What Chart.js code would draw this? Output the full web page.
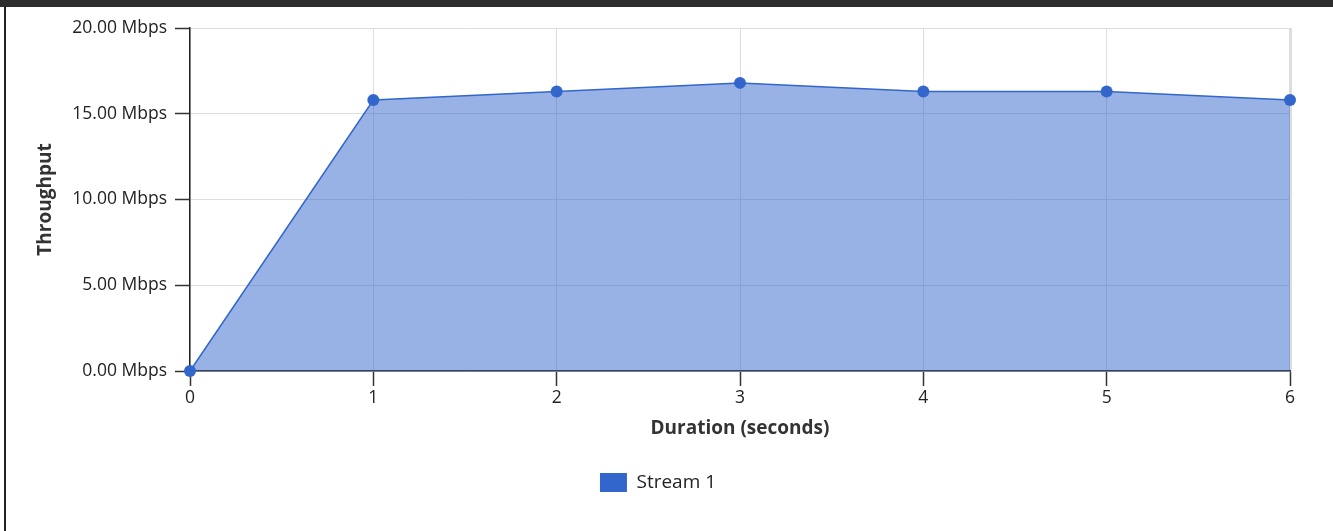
<!DOCTYPE html>
<html>
<head>
<meta charset="utf-8">
<title>Throughput</title>
<script src="https://cdn.jsdelivr.net/npm/chart.js@4"></script>
<style>
    html, body { margin: 0; padding: 0; background: #fff; }
    #topbar { position: absolute; left: 0; top: 0; width: 1333px; height: 7px; background: #2e2e2e; }
    #leftbar { position: absolute; left: 4px; top: 7px; width: 2px; height: 524px; background: #222; }
    #stage { position: absolute; left: 0; top: 0; }
</style>
</head>
<body>
<div id="topbar"></div>
<div id="leftbar"></div>
<canvas id="stage" width="1333" height="531"></canvas>
<script>
// 計測結果（秒ごとのスループット, Mbps）
const seconds = ['0', '1', '2', '3', '4', '5', '6'];
const stream1 = [0, 15.8, 16.3, 16.8, 16.3, 16.3, 15.8];
const yTicks = [0, 5, 10, 15, 20];

const font = "'Open Sans', 'DejaVu Sans', sans-serif";

new Chart(document.getElementById('stage'), {
    type: 'line',
    data: {
        labels: seconds,
        datasets: [{
            label: 'Stream 1',
            data: stream1,
            borderColor: '#3366cc',
            backgroundColor: 'rgba(51, 102, 204, 0.5)',
            borderWidth: 1.5,
            fill: 'origin',
            tension: 0,
            clip: false,
            pointRadius: 6,
            pointBackgroundColor: '#3366cc',
            pointBorderWidth: 0,
        }]
    },
    options: {
        responsive: false,
        animation: false,
        layout: { padding: { top: 28, right: 43, bottom: 29, left: 26 } },
        plugins: {
            legend: {
                position: 'bottom',
                labels: {
                    boxWidth: 27,
                    boxHeight: 19,
                    padding: 10,
                    color: '#222',
                    font: { family: font, size: 19 },
                    generateLabels: chart => chart.data.datasets.map((ds, i) => ({
                        text: ds.label,
                        fillStyle: ds.borderColor,
                        strokeStyle: ds.borderColor,
                        lineWidth: 0,
                        fontColor: '#222',
                        datasetIndex: i,
                    })),
                },
            },
            tooltip: { enabled: false },
        },
        scales: {
            x: {
                type: 'category',
                offset: false,
                afterFit: scale => { scale.height = 92; },
                grid: {
                    color: '#dddddd',
                    lineWidth: ctx => ctx.index === seconds.length - 1 ? 3 : 1,
                    tickColor: '#333',
                    tickWidth: 1.5,
                    tickLength: 15,
                },
                border: { color: '#222', width: 1.5 },
                ticks: {
                    color: '#222',
                    padding: 2,
                    maxRotation: 0,
                    font: { family: font, size: 17.5 },
                },
                title: {
                    display: true,
                    text: 'Duration (seconds)',
                    color: '#333',
                    font: { family: font, size: 19, weight: 'bold' },
                    padding: { top: 4, bottom: 23 },
                },
            },
            y: {
                min: 0,
                max: 20,
                afterFit: scale => { scale.width = 164; },
                afterBuildTicks: scale => { scale.ticks = yTicks.map(v => ({ value: v })); },
                grid: {
                    color: '#dddddd',
                    tickColor: '#333',
                    tickWidth: 1.5,
                    tickLength: 15,
                },
                border: { color: '#222', width: 1.5 },
                ticks: {
                    color: '#222',
                    padding: 8,
                    font: { family: font, size: 17.5 },
                    callback: v => v.toFixed(2) + ' Mbps',
                },
                title: {
                    display: true,
                    text: 'Throughput',
                    color: '#333',
                    font: { family: font, size: 19, weight: 'bold' },
                    padding: { top: 8, bottom: 0 },
                },
            },
        },
    },
});
</script>
</body>
</html>
